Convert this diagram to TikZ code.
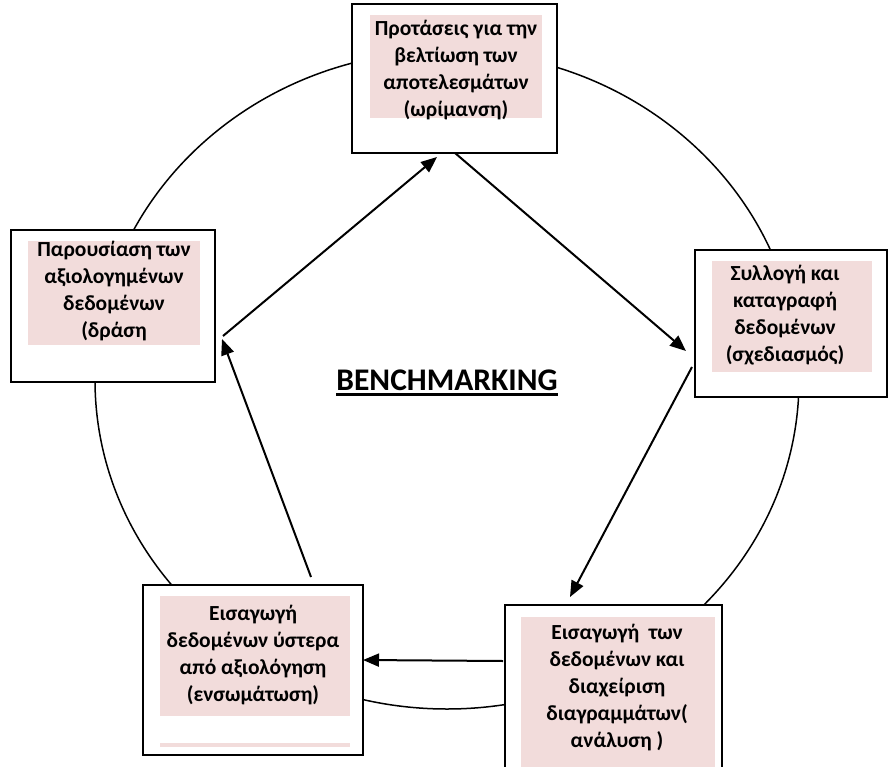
\documentclass[tikz,border=0pt]{standalone}
\usepackage{fontspec}
\setmainfont{Carlito}
\usetikzlibrary{arrows.meta}
\definecolor{pinkbg}{RGB}{242,220,219}
\tikzset{
  boxframe/.style={draw=black, line width=2pt, fill=white},
  pinkfill/.style={fill=pinkbg, draw=none},
  label/.style={align=center, font=\bfseries\fontsize{21.5}{27}\selectfont, inner sep=0pt},
  conn/.style={line width=2pt, -{Triangle[length=16pt,width=13pt]}},
}
\begin{document}
\begin{tikzpicture}[x=1pt,y=-1pt]
\useasboundingbox (0,0) rectangle (890,767);
% ellipse cycle
\draw[line width=1.5pt] (447,380) ellipse [x radius=352, y radius=329];
% boxes
\draw[boxframe] (352,4) rectangle (557,153);
\fill[pinkfill] (370,15) rectangle (542,118);
\draw[boxframe] (11,230) rectangle (215,382);
\fill[pinkfill] (28,241) rectangle (200,345);
\draw[boxframe] (695,250) rectangle (887,397);
\fill[pinkfill] (712,261) rectangle (872,372);
\draw[boxframe] (143,585) rectangle (363,755);
\fill[pinkfill] (160,596) rectangle (350,716);
\fill[pinkfill] (160,743) rectangle (350,747);
\draw[boxframe] (505,605) rectangle (722,790);
\fill[pinkfill] (521,617) rectangle (715,790);
% labels
\node[label] (ntop) at (456,70) {Προτάσεις για την\\βελτίωση των\\αποτελεσμάτων\\(ωρίμανση)};
\node[label] (nleft) at (114,291) {Παρουσίαση των\\αξιολογημένων\\δεδομένων\\(δράση};
\node[label] (nright) at (785,315) {Συλλογή και\\καταγραφή\\δεδομένων\\(σχεδιασμός)};
\node[label] (nbl) at (253,655) {Εισαγωγή\\δεδομένων ύστερα\\από αξιολόγηση\\(ενσωμάτωση)};
\node[label] (nbr) at (617,688) {Εισαγωγή\ \ των\\δεδομένων και\\διαχείριση\\διαγραμμάτων(\\ανάλυση )};
\node[font=\bfseries\fontsize{31.5}{36}\selectfont, inner sep=0pt, anchor=base] (title) at (447,390) {BENCHMARKING};
\draw[line width=3pt] ([yshift=-4.5pt]title.base west) -- ([yshift=-4.5pt]title.base east);
% connector end points
\coordinate (a1s) at (223,336);
\coordinate (a1e) at (437,157);
\coordinate (a2s) at (455,153);
\coordinate (a2e) at (686,351);
\coordinate (a3s) at (692,367);
\coordinate (a3e) at (570,597);
\coordinate (a4s) at (503,661);
\coordinate (a4e) at (363,660);
\coordinate (a5s) at (311,577);
\coordinate (a5e) at (222,339);
\draw[conn] (a1s) -- (a1e);
\draw[conn] (a2s) -- (a2e);
\draw[conn] (a3s) -- (a3e);
\draw[conn] (a4s) -- (a4e);
\draw[conn] (a5s) -- (a5e);
\end{tikzpicture}
\end{document}
